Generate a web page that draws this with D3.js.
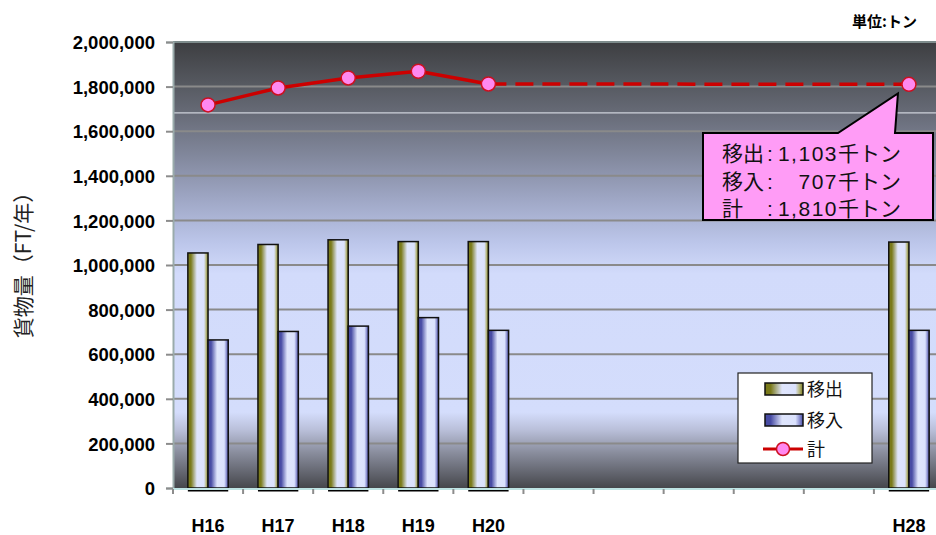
<!DOCTYPE html>
<html>
<head>
<meta charset="utf-8">
<script src="https://cdn.jsdelivr.net/npm/d3@7"></script>
<style>
  html, body { margin: 0; padding: 0; background: #ffffff; }
  svg { display: block; }
  .num { font-family: "Liberation Sans", Arial, sans-serif; font-weight: bold; }
  .jp { font-family: "Liberation Sans", Arial, "Noto Sans CJK JP", sans-serif; }
</style>
</head>
<body>
<svg id="chart" width="936" height="535"></svg>
<script>
// Cargo volume by fiscal year (tonnes / year)
const slots      = ["H16", "H17", "H18", "H19", "H20", "", "", "", "", "", "H28"];
const outbound   = [1054000, 1092000, 1113000, 1105000, 1105000, null, null, null, null, null, 1103000]; // 移出
const inbound    = [664000, 702000, 726000, 764000, 707000, null, null, null, null, null, 707000];       // 移入
const totals     = [1718000, 1794000, 1839000, 1869000, 1812000, null, null, null, null, null, 1810000]; // 計
const yTicks     = [0, 200000, 400000, 600000, 800000, 1000000, 1200000, 1400000, 1600000, 1800000, 2000000];
const seriesNames = ["移出", "移入", "計"];

const W = 936, H = 535;
const plot = { left: 173, top: 42, width: 771, height: 446 };

const svg = d3.select("#chart");
const defs = svg.append("defs");

// plot background: dark top, pale blue middle, dark bottom
const bg = defs.append("linearGradient").attr("id", "bgGrad")
  .attr("x1", 0).attr("y1", 0).attr("x2", 0).attr("y2", 1);
[[0, "#3d3e41"], [0.09, "#55585f"], [0.16, "#676b77"], [0.25, "#80869a"], [0.35, "#9ea6c4"],
 [0.45, "#bcc6ea"], [0.52, "#d2dbfb"], [0.83, "#d4ddfc"], [0.87, "#b9bfd9"], [0.92, "#8a8e9e"], [1, "#46474c"]]
  .forEach(([o, c]) => bg.append("stop").attr("offset", o).attr("stop-color", c));

function barGradient(id, dark, mid) {
  const g = defs.append("linearGradient").attr("id", id).attr("x1", 0).attr("y1", 0).attr("x2", 1).attr("y2", 0);
  [[0, dark], [0.15, dark], [0.45, "#dfe5fc"], [0.8, "#dbe2fd"], [0.9, mid], [1, dark]]
    .forEach(([o, c]) => g.append("stop").attr("offset", o).attr("stop-color", c));
}
barGradient("outGrad", "#7a7a1a", "#b9ba86");
barGradient("inGrad", "#484ca4", "#9499d6");

const clip = defs.append("clipPath").attr("id", "plotClip");
clip.append("rect").attr("x", plot.left).attr("y", plot.top - 10).attr("width", plot.width).attr("height", plot.height + 20);

const x = d3.scaleBand().domain(d3.range(slots.length))
  .range([plot.left, plot.left + plot.width]).paddingInner(0).paddingOuter(0);
const y = d3.scaleLinear().domain([0, 2000000]).range([plot.top + plot.height, plot.top]);

// background
svg.append("rect").attr("x", plot.left).attr("y", plot.top)
  .attr("width", plot.width).attr("height", plot.height).attr("fill", "url(#bgGrad)");
svg.append("line").attr("x1", plot.left).attr("x2", plot.left + plot.width)
  .attr("y1", plot.top + plot.height * 0.159).attr("y2", plot.top + plot.height * 0.159)
  .attr("stroke", "#e8ecf4").attr("stroke-width", 1);

// gridlines
svg.append("g").selectAll("line").data(yTicks.slice(1)).join("line")
  .attr("x1", plot.left).attr("x2", plot.left + plot.width)
  .attr("y1", d => y(d)).attr("y2", d => y(d))
  .attr("stroke", d => d === 2000000 ? "#7e8c8c" : "#8a8a8a").attr("stroke-width", 2);

// y axis
const yAxis = svg.append("g").attr("transform", `translate(${plot.left},0)`)
  .call(d3.axisLeft(y).tickValues(yTicks).tickSize(7).tickPadding(10).tickFormat(d3.format(",")));
yAxis.select(".domain").attr("stroke", "#9aabab").attr("stroke-width", 2);
yAxis.selectAll(".tick line").attr("stroke", "#8c8c8c").attr("stroke-width", 2);
yAxis.selectAll(".tick text").attr("class", "num").attr("font-size", 18.5)
  .attr("fill", "#000").attr("x", -18).attr("dy", "0.36em");

// bars
const bw = x.bandwidth() * 0.288;
const barLayer = svg.append("g").attr("clip-path", "url(#plotClip)");
const idx = d3.range(slots.length).filter(i => outbound[i] != null);
barLayer.selectAll("rect.out").data(idx).join("rect").attr("class", "out")
  .attr("x", i => x(i) + x.bandwidth() / 2 - bw).attr("width", bw)
  .attr("y", i => y(outbound[i])).attr("height", i => y(0) - y(outbound[i]))
  .attr("fill", "url(#outGrad)").attr("stroke", "#111").attr("stroke-width", 1.5);
barLayer.selectAll("rect.in").data(idx).join("rect").attr("class", "in")
  .attr("x", i => x(i) + x.bandwidth() / 2).attr("width", bw)
  .attr("y", i => y(inbound[i])).attr("height", i => y(0) - y(inbound[i]))
  .attr("fill", "url(#inGrad)").attr("stroke", "#111").attr("stroke-width", 1.5);

// x axis
const xAxisY = y(0) + 1;
svg.append("line").attr("x1", plot.left).attr("x2", plot.left + plot.width)
  .attr("y1", xAxisY).attr("y2", xAxisY).attr("stroke", "#bfe4e4").attr("stroke-width", 2);
svg.append("g").selectAll("line").data(d3.range(slots.length)).join("line")
  .attr("x1", i => x(i)).attr("x2", i => x(i)).attr("y1", xAxisY).attr("y2", xAxisY + 5)
  .attr("stroke", "#8c8c8c").attr("stroke-width", 2);
barLayer.selectAll("line.base").data(idx).join("line").attr("class", "base")
  .attr("x1", i => x(i) + x.bandwidth() / 2 - bw).attr("x2", i => x(i) + x.bandwidth() / 2 + bw)
  .attr("y1", xAxisY + 1).attr("y2", xAxisY + 1).attr("stroke", "#000").attr("stroke-width", 3);
svg.append("g").selectAll("text").data(d3.range(slots.length)).join("text")
  .attr("class", "num").attr("font-size", 18).attr("text-anchor", "middle")
  .attr("x", i => x(i) + x.bandwidth() / 2).attr("y", 532).attr("fill", "#000")
  .text(i => slots[i]);

// total line: solid over observed years, dashed across the gap
const lineGen = d3.line().x(i => x(i) + x.bandwidth() / 2).y(i => y(totals[i]));
const solid = [0, 1, 2, 3, 4];
const gap = [4, 10];
svg.append("path").attr("d", lineGen(gap)).attr("fill", "none")
  .attr("stroke", "#cc0000").attr("stroke-width", 3.5).attr("stroke-dasharray", "18,9");
svg.append("path").attr("d", lineGen(solid)).attr("fill", "none")
  .attr("stroke", "#cc0000").attr("stroke-width", 3.5);
svg.append("g").selectAll("circle").data(idx).join("circle")
  .attr("cx", i => x(i) + x.bandwidth() / 2).attr("cy", i => y(totals[i])).attr("r", 7)
  .attr("fill", "#ff88f0").attr("stroke", "#cc1020").attr("stroke-width", 1.5);

// callout for the last year
const last = slots.length - 1;
const tipX = x(last) + x.bandwidth() / 2 - 11, tipY = y(totals[last]) + 9;
const bx0 = 703, bx1 = 933, by0 = 133, by1 = 220;
svg.append("path")
  .attr("d", `M${bx0},${by0} L838,${by0} L${tipX},${tipY} L895,${by0} L${bx1},${by0} L${bx1},${by1} L${bx0},${by1} Z`)
  .attr("fill", "#ff9cf6").attr("stroke", "#000").attr("stroke-width", 2).attr("stroke-linejoin", "miter");
const fmtK = v => d3.format(",")(Math.round(v / 1000));
const callRows = [
  [seriesNames[0], outbound[last]],
  [seriesNames[1], inbound[last]],
  [seriesNames[2], totals[last]]
];
const callG = svg.append("g").attr("class", "jp").attr("font-size", 21).attr("fill", "#111");
callRows.forEach(([name, v], k) => {
  const by = 161 + k * 27.5;
  callG.append("text").attr("x", 722).attr("y", by).text(name);
  callG.append("text").attr("x", 767).attr("y", by).text(":");
  callG.append("text").attr("x", 838).attr("y", by).attr("text-anchor", "end")
    .attr("letter-spacing", 1.5).text(fmtK(v));
  callG.append("text").attr("x", 838).attr("y", by).text("千トン");
});

// legend
const lg = svg.append("g");
lg.append("rect").attr("x", 738).attr("y", 373).attr("width", 134).attr("height", 90)
  .attr("fill", "#ffffff").attr("stroke", "#222").attr("stroke-width", 1.2);
lg.append("rect").attr("x", 765).attr("y", 383).attr("width", 38).attr("height", 12)
  .attr("fill", "url(#outGrad)").attr("stroke", "#111").attr("stroke-width", 1.5);
lg.append("rect").attr("x", 765).attr("y", 414).attr("width", 38).attr("height", 12)
  .attr("fill", "url(#inGrad)").attr("stroke", "#111").attr("stroke-width", 1.5);
lg.append("line").attr("x1", 763).attr("x2", 803).attr("y1", 449).attr("y2", 449)
  .attr("stroke", "#cc0000").attr("stroke-width", 3);
lg.append("circle").attr("cx", 783).attr("cy", 449).attr("r", 6.5)
  .attr("fill", "#ff88f0").attr("stroke", "#cc1020").attr("stroke-width", 1.5);
[[seriesNames[0], 389], [seriesNames[1], 420], [seriesNames[2], 449]].forEach(([t, cy]) => {
  lg.append("text").attr("class", "jp").attr("x", 807).attr("y", cy + 7)
    .attr("font-size", 18).attr("fill", "#111").text(t);
});

// axis title and unit
svg.append("text").attr("font-family", "'Noto Sans CJK JP', sans-serif").attr("font-size", 21).attr("fill", "#222")
  .attr("text-anchor", "middle")
  .attr("transform", `translate(31,260) rotate(-90)`)
  .text("貨物量（FT/年）");
svg.append("text").attr("font-family", "'Noto Sans CJK JP', sans-serif").attr("font-weight", "bold")
  .attr("font-size", 15).attr("text-anchor", "end").attr("x", 917).attr("y", 27).attr("fill", "#000")
  .text("単位:トン");
</script>
</body>
</html>
